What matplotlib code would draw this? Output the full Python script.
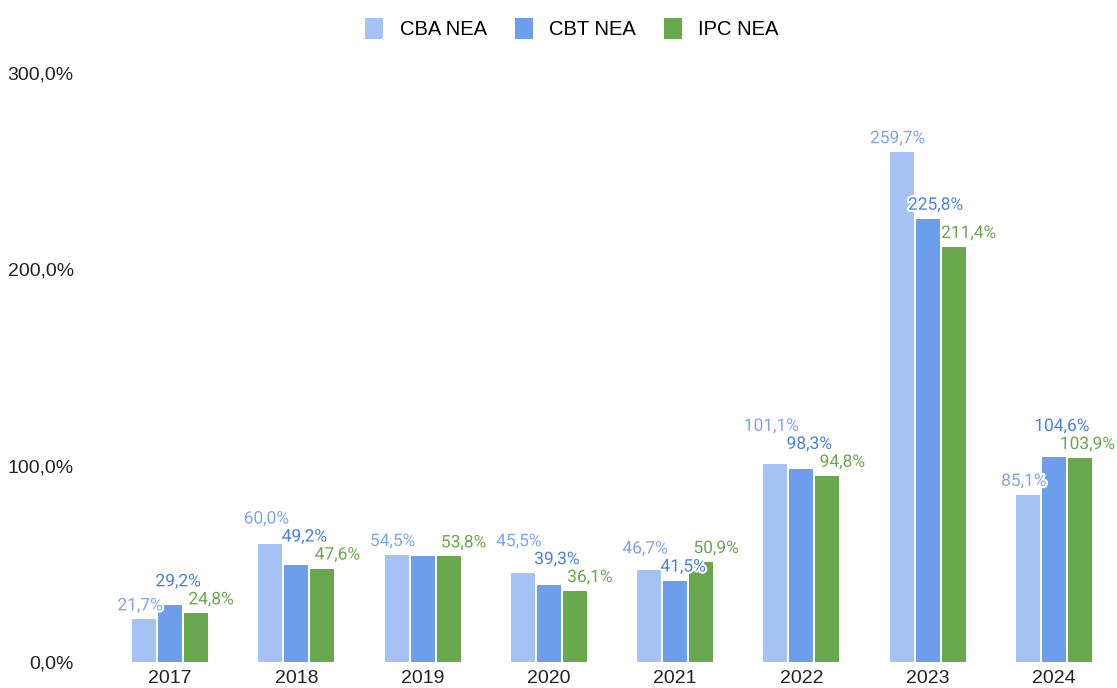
import matplotlib.pyplot as plt
import matplotlib.patheffects as pe
import numpy as np
from matplotlib.ticker import FuncFormatter

years = ['2017', '2018', '2019', '2020', '2021', '2022', '2023', '2024']
cba = [21.7, 60.0, 54.5, 45.5, 46.7, 101.1, 259.7, 85.1]
cbt = [29.2, 49.2, 54.2, 39.3, 41.5, 98.3, 225.8, 104.6]
ipc = [24.8, 47.6, 53.8, 36.1, 50.9, 94.8, 211.4, 103.9]
series_names = ['CBA NEA', 'CBT NEA', 'IPC NEA']
# which value labels the reference actually shows (CBT 2019 is hidden)
show_cbt = [True, True, False, True, True, True, True, True]

bar_colors = ['#a4c2f4', '#6d9eeb', '#6aa84f']
label_colors = ['#7ea6ee', '#4a80e0', '#6aa84f']
label_shift = [-4, 8, 15]  # px, horizontal nudge of the value labels per series


def pct(v):
    return f'{v:.1f}'.replace('.', ',') + '%'


fig = plt.figure(figsize=(11.17, 6.88), dpi=100)
ax = fig.add_axes([0.0958, 0.0378, 0.9042, 0.856])

x = np.arange(len(years))
w = 0.19
step = 0.206
all_series = [cba, cbt, ipc]
for i, (vals, name) in enumerate(zip(all_series, series_names)):
    ax.bar(x + (i - 1) * step, vals, width=w, color=bar_colors[i], label=name, zorder=2)

halo = [pe.withStroke(linewidth=3, foreground='white')]
groups = []
for j in range(len(years)):
    labs = []
    for i, vals in enumerate(all_series):
        if i == 1 and not show_cbt[j]:
            continue
        xc = x[j] + (i - 1) * step
        ann = ax.annotate(pct(vals[j]), (xc, vals[j]), xytext=(label_shift[i], 9),
                          textcoords='offset pixels', ha='center', va='baseline',
                          color=label_colors[i], fontsize=12.5, family='Roboto',
                          annotation_clip=False, path_effects=halo, zorder=4)
        labs.append((ann, vals[j]))
    groups.append(labs)

ax.set_xlim(-0.5, len(years) - 0.5)
ax.set_ylim(0, 300)
ax.set_yticks([0, 100, 200, 300])
ax.yaxis.set_major_formatter(FuncFormatter(lambda v, p: pct(v)))
ax.set_xticks(x)
ax.set_xticklabels(years)
ax.tick_params(length=0, labelsize=14, colors='#222222', pad=6)
ax.tick_params(axis='y', pad=24)
for lab in ax.get_xticklabels() + ax.get_yticklabels():
    lab.set_family('Liberation Sans')
for s in ax.spines.values():
    s.set_visible(False)

fig.legend(loc='upper center', bbox_to_anchor=(0.512, 1.0), ncol=3, frameon=False,
           prop={'family': 'Liberation Sans', 'size': 14.5}, handlelength=0.9, handleheight=1.2,
           columnspacing=1.4, handletextpad=0.8)

# simple label collision handling: keep labels inside the figure,
# and push the label of the taller bar upward when two labels overlap
fig.canvas.draw()
r = fig.canvas.get_renderer()
fig_w = fig.bbox.width
gap = 3
for labs in groups:
    for ann, v in labs:
        bb = ann.get_window_extent(r)
        if bb.x1 > fig_w - 2:
            dx, dy = ann.xyann
            ann.xyann = (dx - (bb.x1 - fig_w + 2), dy)
    for _ in range(20):
        moved = False
        for a in range(len(labs)):
            for b in range(a + 1, len(labs)):
                ann_a, va_ = labs[a]
                ann_b, vb_ = labs[b]
                ba = ann_a.get_window_extent(r)
                bb = ann_b.get_window_extent(r)
                if ba.x0 < bb.x1 and bb.x0 < ba.x1 and ba.y0 < bb.y1 + gap and bb.y0 < ba.y1 + gap:
                    if va_ >= vb_:
                        up, low, bu, bl = ann_a, ann_b, ba, bb
                    else:
                        up, low, bu, bl = ann_b, ann_a, bb, ba
                    dx, dy = up.xyann
                    up.xyann = (dx, dy + (bl.y1 + gap - bu.y0))
                    moved = True
        if not moved:
            break

fig.savefig('out.png', dpi=100)
